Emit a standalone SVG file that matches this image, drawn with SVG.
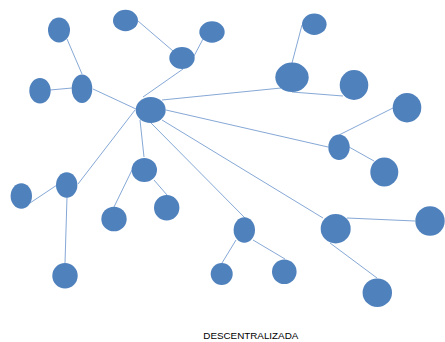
<svg xmlns="http://www.w3.org/2000/svg" width="445" height="342" viewBox="0 0 445 342">
<style>
.n{fill:#4F81BD;}
.c line{stroke:#86A8D6;stroke-width:1;}
.t{font-family:"Liberation Sans",Arial,sans-serif;font-size:8.5px;fill:#000;}
</style>
<rect width="445" height="342" fill="#fff"/>
<g class="c" id="connectors">
<line x1="67" y1="39" x2="82" y2="74"/>
<line x1="50" y1="90" x2="72" y2="88"/>
<line x1="93" y1="89" x2="136" y2="109"/>
<line x1="138" y1="21" x2="173" y2="51"/>
<line x1="194" y1="56" x2="203" y2="39"/>
<line x1="183" y1="69" x2="143" y2="97"/>
<line x1="140" y1="120" x2="144" y2="157"/>
<line x1="135" y1="110" x2="78" y2="184"/>
<line x1="162" y1="100" x2="281" y2="88"/>
<line x1="302" y1="25" x2="292" y2="63"/>
<line x1="292" y1="92" x2="343" y2="96"/>
<line x1="166" y1="110" x2="328" y2="147"/>
<line x1="339" y1="135" x2="393" y2="108"/>
<line x1="349" y1="147" x2="374" y2="161"/>
<line x1="162" y1="120" x2="323" y2="218"/>
<line x1="151" y1="123" x2="245" y2="218"/>
<line x1="30" y1="203" x2="57" y2="185"/>
<line x1="67" y1="197" x2="65" y2="263"/>
<line x1="132" y1="170" x2="114" y2="207"/>
<line x1="154" y1="180" x2="167" y2="195"/>
<line x1="236" y1="240" x2="222" y2="263"/>
<line x1="253" y1="240" x2="285" y2="259"/>
<line x1="347" y1="218" x2="415" y2="221"/>
<line x1="330" y1="243" x2="377" y2="278"/>
</g>
<g id="hub"><ellipse class="n" cx="150.7" cy="110" rx="15" ry="13"/></g>
<g id="n1"><ellipse class="n" cx="59" cy="30" rx="11" ry="12.5"/></g>
<g id="n2"><ellipse class="n" cx="125.5" cy="20.5" rx="12.5" ry="10.7"/></g>
<g id="n3"><ellipse class="n" cx="182" cy="58" rx="12.7" ry="11"/></g>
<g id="n4"><ellipse class="n" cx="212" cy="32" rx="12.7" ry="10.7"/></g>
<g id="n5"><ellipse class="n" cx="40" cy="90.7" rx="10.7" ry="12.7"/></g>
<g id="n6"><ellipse class="n" cx="82" cy="88.7" rx="10.3" ry="14.3"/></g>
<g id="n7"><ellipse class="n" cx="144.3" cy="170" rx="12.7" ry="12"/></g>
<g id="n8"><ellipse class="n" cx="314.3" cy="24.3" rx="12.3" ry="10.7"/></g>
<g id="n9"><ellipse class="n" cx="292" cy="77.3" rx="16.7" ry="14.7"/></g>
<g id="n10"><ellipse class="n" cx="354" cy="85" rx="14.3" ry="15"/></g>
<g id="n11"><ellipse class="n" cx="407" cy="107.7" rx="14.3" ry="14.7"/></g>
<g id="n12"><ellipse class="n" cx="339" cy="147.3" rx="10.7" ry="12.7"/></g>
<g id="n13"><ellipse class="n" cx="384.3" cy="172" rx="14" ry="14.5"/></g>
<g id="n14"><ellipse class="n" cx="21.3" cy="196" rx="10.7" ry="12.7"/></g>
<g id="n15"><ellipse class="n" cx="66.7" cy="185" rx="10.7" ry="12.7"/></g>
<g id="n16"><ellipse class="n" cx="114" cy="219" rx="12.7" ry="12.3"/></g>
<g id="n17"><ellipse class="n" cx="166.7" cy="207.7" rx="12.7" ry="12.7"/></g>
<g id="n18"><ellipse class="n" cx="65" cy="275.7" rx="12.7" ry="12.7"/></g>
<g id="n19"><ellipse class="n" cx="221.7" cy="274" rx="11" ry="11"/></g>
<g id="n20"><ellipse class="n" cx="244.3" cy="230" rx="10.7" ry="12.7"/></g>
<g id="n21"><ellipse class="n" cx="284.3" cy="271.7" rx="12.3" ry="12.3"/></g>
<g id="n22"><ellipse class="n" cx="335.7" cy="228.7" rx="15" ry="14.7"/></g>
<g id="n23"><ellipse class="n" cx="430" cy="221" rx="14.7" ry="14.7"/></g>
<g id="n24"><ellipse class="n" cx="377.3" cy="292.7" rx="14.7" ry="14.3"/></g>
<text class="t" x="203.3" y="339.3" textLength="95" lengthAdjust="spacingAndGlyphs">DESCENTRALIZADA</text>
</svg>
